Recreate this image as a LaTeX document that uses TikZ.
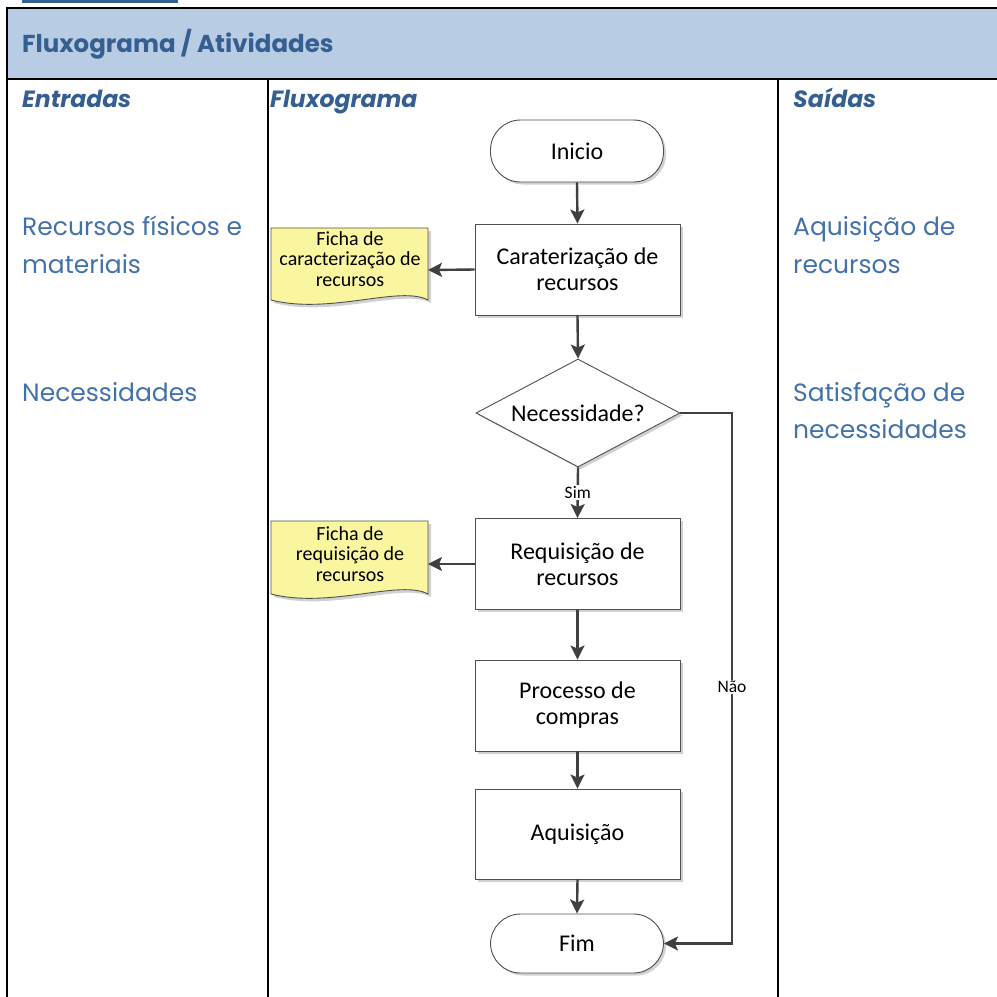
\documentclass[tikz,border=0pt]{standalone}
\usepackage{fontspec}
\setmainfont{Carlito}
\newfontfamily\gothic{Poppins}
\usetikzlibrary{shapes.geometric,arrows.meta,shadows}
\definecolor{hdrfill}{HTML}{B8CCE4}
\definecolor{hdrtext}{HTML}{365F91}
\definecolor{bodytext}{HTML}{4371AA}
\definecolor{docfill}{HTML}{FAF6A0}
\definecolor{shapeline}{HTML}{505050}
\definecolor{arrowc}{HTML}{404040}
\tikzset{
  shd/.style={drop shadow={shadow xshift=2.5pt,shadow yshift=-2.5pt,fill=black!18,opacity=1}},
  procbox/.style={draw=shapeline,line width=0.9pt,fill=white,shd,minimum width=205pt,minimum height=91pt,inner sep=0pt,align=center,font=\fontsize{24}{26}\selectfont},
  terminal/.style={draw=shapeline,line width=0.9pt,fill=white,shd,minimum width=173pt,rounded corners=30pt,inner sep=0pt,font=\fontsize{24}{26}\selectfont},
  decision/.style={diamond,draw=shapeline,line width=0.9pt,fill=white,shd,aspect=1.89,minimum width=204pt,minimum height=108pt,inner sep=0pt,font=\fontsize{24}{26}\selectfont},
  doctext/.style={align=center,inner sep=0pt,font=\fontsize{20}{20.5}\selectfont},
  flow/.style={draw=arrowc,line width=2.4pt,-{Stealth[length=14pt,width=14pt,inset=3pt]}},
  lbl/.style={fill=white,inner sep=1.5pt,font=\fontsize{17.5}{19}\selectfont},
  bodyt/.style={anchor=base west,inner sep=0pt,text=bodytext,font=\gothic\fontsize{25}{30}\selectfont},
  colhead/.style={anchor=base west,inner sep=0pt,text=hdrtext,font=\gothic\bfseries\itshape\fontsize{23.5}{26}\selectfont},
  tline/.style={line width=2pt,draw=black}
}
\begin{document}
\begin{tikzpicture}[x=1pt,y=-1pt]
\useasboundingbox (0,0) rectangle (997,997);
% fragment at top
\fill[hdrtext] (22,0) rectangle (178,3);
% table
\fill[hdrfill] (7,8) rectangle (997,79);
\draw[tline] (997,8) -- (7,8) -- (7,997);
\draw[tline] (7,79) -- (997,79);
\draw[tline] (268,79) -- (268,997);
\draw[tline] (778,79) -- (778,997);
\node[anchor=base west,inner sep=0pt,text=hdrtext,font=\gothic\bfseries\fontsize{24.5}{26}\selectfont] (title) at (22,52) {Fluxograma / Atividades};
\node[colhead] (hin) at (22,107) {Entradas};
\node[colhead] (hfl) at (270,107) {Fluxograma};
\node[colhead] (hout) at (793,107) {Saídas};
\node[bodyt] (in1a) at (22,235) {Recursos físicos e};
\node[bodyt] (in1b) at (22,273) {materiais};
\node[bodyt] (in2) at (22,401) {Necessidades};
\node[bodyt] (out1a) at (793,235) {Aquisição de};
\node[bodyt] (out1b) at (793,273) {recursos};
\node[bodyt] (out2a) at (793,401) {Satisfação de};
\node[bodyt] (out2b) at (793,438) {necessidades};
% flowchart
\node[terminal,minimum height=62pt] (ini) at (577,151) {Inicio};
\node[procbox] (car) at (577.5,269.5) {Caraterização de\\recursos};
\node[decision] (nec) at (578,413) {Necessidade?};
\node[procbox] (req) at (577.5,564) {Requisição de\\recursos};
\node[procbox] (pro) at (577.5,705.5) {Processo de\\compras};
\node[procbox,minimum height=90pt] (aqu) at (577.5,834) {Aquisição};
\node[terminal,minimum height=59pt] (fim) at (577,943.5) {Fim};
% documents
\fill[black!18] (274,231) -- (431,231) -- (431,303) .. controls (403,288) and (333,318) .. (274,303) -- cycle;
\draw[shapeline,line width=0.9pt,fill=docfill] (271,228) -- (428,228) -- (428,300) .. controls (400,285) and (330,315) .. (271,300) -- cycle;
\node[doctext] (doc1) at (350,259) {Ficha de\\caracterização de\\recursos};
\coordinate (d1e) at (428,270);
\fill[black!18] (274,524) -- (431,524) -- (431,597) .. controls (403,582) and (333,612) .. (274,597) -- cycle;
\draw[shapeline,line width=0.9pt,fill=docfill] (271,521) -- (428,521) -- (428,594) .. controls (400,579) and (330,609) .. (271,594) -- cycle;
\node[doctext] (doc2) at (350,554) {Ficha de\\requisição de\\recursos};
\coordinate (d2e) at (428,564);
% connectors
\draw[flow] (ini.south) -- (car.north);
\draw[flow] (car.south) -- (nec.north);
\draw[flow] (nec.south) -- node[lbl,pos=0.5] (sim) {Sim} (req.north);
\draw[flow] (req.south) -- (pro.north);
\draw[flow] (pro.south) -- (aqu.north);
\draw[flow] (aqu.south) -- (fim.north);
\draw[flow] (car.west) -- (d1e);
\draw[flow] (req.west) -- (d2e);
\coordinate (nr) at (732,413);
\draw[flow] (nec.east) -- (nr) |- (fim.east);
\node[lbl] (nao) at (732,687) {Não};
\end{tikzpicture}
\end{document}
